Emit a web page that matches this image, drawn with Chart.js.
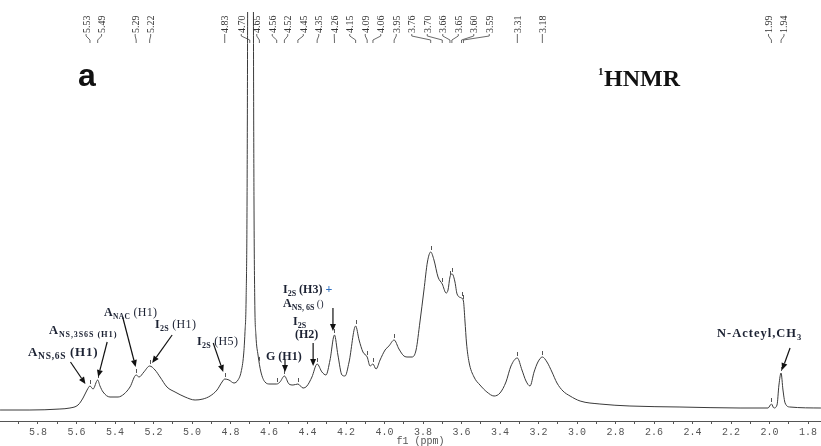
<!DOCTYPE html>
<html>
<head>
<meta charset="utf-8">
<script src="https://cdn.jsdelivr.net/npm/chart.js@4/dist/chart.umd.min.js"></script>
<style>
  html, body { margin: 0; padding: 0; background: #fff; }
  #wrap { width: 821px; height: 446px; position: relative; }
</style>
</head>
<body>
<div id="wrap"><canvas id="nmr" width="821" height="446"></canvas></div>
<script>
// 1H NMR spectrum: chemical shift (ppm) and signal intensity (arbitrary units)
const shifts = [
  5.997, 5.842, 5.686, 5.634, 5.592, 5.566, 5.545, 5.530, 5.514, 5.490,
  5.478, 5.462, 5.426, 5.384, 5.353, 5.322, 5.290, 5.275, 5.250, 5.220,
  5.192, 5.166, 5.130, 5.088, 5.036, 4.984, 4.943, 4.906, 4.870, 4.844,
  4.830, 4.808, 4.782, 4.761, 4.745, 4.732, 4.725, 4.719, 4.714, 4.711,
  4.696, 4.681, 4.678, 4.674, 4.668, 4.657, 4.642, 4.621, 4.595, 4.560,
  4.543, 4.520, 4.496, 4.475, 4.450, 4.423, 4.403, 4.377, 4.350, 4.325,
  4.304, 4.283, 4.260, 4.242, 4.221, 4.205, 4.184, 4.150, 4.132, 4.112,
  4.090, 4.075, 4.060, 4.044, 4.023, 3.997, 3.977, 3.950, 3.925, 3.899,
  3.878, 3.857, 3.836, 3.816, 3.795, 3.777, 3.760, 3.743, 3.722, 3.700,
  3.680, 3.670, 3.660, 3.650, 3.644, 3.634, 3.623, 3.600, 3.590, 3.582,
  3.574, 3.561, 3.535, 3.504, 3.468, 3.431, 3.400, 3.369, 3.343, 3.310,
  3.286, 3.265, 3.244, 3.223, 3.203, 3.180, 3.156, 3.130, 3.104, 3.073,
  3.036, 2.984, 2.881, 2.725, 2.465, 2.153, 2.008, 1.990, 1.977, 1.961,
  1.951, 1.940, 1.930, 1.919, 1.894, 1.733
];
const intensity = [
  11, 11, 12, 13, 16, 23, 31, 35, 32, 41,
  35, 29, 24, 24, 27, 34, 46, 44, 49, 55,
  51, 44, 34, 29, 24, 21, 22, 25, 31, 39,
  42, 41, 38, 41, 49, 66, 88, 121, 221, 421,
  2400, 421, 221, 121, 86, 66, 49, 39, 37, 37,
  39, 45, 37, 36, 37, 33, 35, 44, 57, 49,
  46, 61, 86, 66, 46, 45, 59, 95, 81, 69,
  64, 55, 57, 52, 61, 71, 75, 81, 72, 65,
  64, 64, 71, 99, 131, 159, 169, 161, 144, 137,
  128, 131, 144, 147, 146, 139, 127, 123, 120, 100,
  78, 59, 44, 36, 29, 25, 28, 39, 55, 63,
  51, 40, 35, 49, 59, 64, 59, 49, 38, 30,
  25, 20, 17, 15, 14, 13, 13, 17, 13, 16,
  36, 48, 31, 18, 14, 13
];

// picked peaks (ppm)
const peakShifts = [
  5.53, 5.49, 5.29, 5.22, 4.83, 4.70, 4.65, 4.56, 4.52, 4.45,
  4.35, 4.26, 4.15, 4.09, 4.06, 3.95, 3.76, 3.70, 3.66, 3.65,
  3.60, 3.59, 3.31, 3.18, 1.99, 1.94
];

// axis tick labels
const tickLabels = ['5.8','5.6','5.4','5.2','5.0','4.8','4.6','4.4','4.2','4.0',
                    '3.8','3.6','3.4','3.2','3.0','2.8','2.6','2.4','2.2','2.0','1.8'];
const majorTicks = tickLabels.map(Number);
const minorTicks = majorTicks.map(v => Math.round((v + 0.1) * 10) / 10);

const INK = '#1c2233';
const SERIF = '"Liberation Serif", "DejaVu Serif", serif';

// signal assignments: rich text runs [text, size, bold, shift, colour]
const assignments = [
  { ppm: 5.53, tipDx: -4.5, gap: 2, tail: [-15, -22], at: [28, 356], spacing: '0.7px',
    lines: [[['A', 13, 1], ['NS,6S', 9.5, 1, 'sub'], [' (H1)', 13, 1]]] },
  { ppm: 5.49, tipDx: 0.5, gap: 3, tail: [9, -35], at: [49, 334], spacing: '0.9px',
    lines: [[['A', 12.5, 1], ['NS,3S6S', 8, 1, 'sub'], [' (H1)', 8.5, 1, 'sub']]] },
  { ppm: 5.29, tipDx: -0.5, gap: 8, tail: [-13, -50], at: [104, 316], spacing: '0.3px',
    lines: [[['A', 12, 1], ['NAC', 7.5, 1, 'sub'], [' (H1)', 12, 0]]] },
  { ppm: 5.22, tipDx: 2.5, gap: 3, tail: [20, -28], at: [155, 328], spacing: '0.3px',
    lines: [[['I', 12, 1], ['2S', 8, 1, 'sub'], [' (H1)', 12, 0]]] },
  { ppm: 4.83, tipDx: -1.5, gap: 7, tail: [-10, -29], at: [197, 345], spacing: '0.3px',
    lines: [[['I', 12, 1], ['2S', 8, 1, 'sub'], [' (H5)', 12, 0]]] },
  { ppm: 4.52, tipDx: 0.6, gap: 4, tail: [0, -12], at: [266, 360],
    lines: [[['G (H1)', 12, 1]]] },
  { ppm: 4.35, tipDx: -4, gap: -2, tail: [0, -23], at: [293, 325], lineStep: 13, indent: 2,
    lines: [[['I', 12, 1], ['2S', 8, 1, 'sub']], [['(H2)', 12, 1]]] },
  { ppm: 4.26, tipDx: -1.5, gap: 4, tail: [0, -23], at: [283, 293], lineStep: 14,
    lines: [[['I', 12, 1], ['2S', 8, 1, 'sub'], [' (H3) ', 12, 1], ['+', 12, 1, null, '#2f6fc0']],
            [['A', 12, 1], ['NS, 6S', 8, 1, 'sub'], [' ()', 10, 0]]] },
  { ppm: 1.94, tipDx: 1, gap: 3, tail: [8, -22], at: [717, 337], spacing: '1px',
    lines: [[['N-Acteyl,CH', 12.5, 1], ['3', 8.5, 1, 'sub']]] }
];

function curveAt(ppm) {
  for (let i = 0; i < shifts.length - 1; i++) {
    const a = shifts[i], b = shifts[i + 1];
    if (ppm <= a && ppm >= b) {
      const t = (a - ppm) / (a - b);
      return intensity[i] + t * (intensity[i + 1] - intensity[i]);
    }
  }
  return 0;
}

function drawRich(ctx, x, y, runs, spacing) {
  let cx = x;
  ctx.textAlign = 'left';
  ctx.textBaseline = 'alphabetic';
  ctx.letterSpacing = spacing || '0px';
  for (const [t, size, bold, shift, color] of runs) {
    ctx.font = (bold ? 'bold ' : '') + size + 'px ' + SERIF;
    ctx.fillStyle = color || INK;
    const dy = shift === 'sub' ? 2.5 : 0;
    ctx.fillText(t, cx, y + dy);
    cx += ctx.measureText(t).width;
  }
  ctx.letterSpacing = '0px';
}

function drawArrow(ctx, x1, y1, x2, y2) {
  const ang = Math.atan2(y2 - y1, x2 - x1);
  const head = 7, half = 3;
  ctx.strokeStyle = '#111';
  ctx.fillStyle = '#111';
  ctx.lineWidth = 1.2;
  ctx.beginPath();
  ctx.moveTo(x1, y1);
  ctx.lineTo(x2 - Math.cos(ang) * head, y2 - Math.sin(ang) * head);
  ctx.stroke();
  ctx.beginPath();
  ctx.moveTo(x2, y2);
  ctx.lineTo(x2 - head * Math.cos(ang) + half * Math.sin(ang), y2 - head * Math.sin(ang) - half * Math.cos(ang));
  ctx.lineTo(x2 - head * Math.cos(ang) - half * Math.sin(ang), y2 - head * Math.sin(ang) + half * Math.cos(ang));
  ctx.closePath();
  ctx.fill();
}

// spread peak labels so they do not overlap
function spreadLabels(xs, gapPx) {
  let clusters = xs.map(x => ({ items: [x] }));
  const place = c => {
    const mean = c.items.reduce((s, v) => s + v, 0) / c.items.length;
    c.start = mean - (c.items.length - 1) * gapPx / 2;
    c.end = c.start + (c.items.length - 1) * gapPx;
  };
  clusters.forEach(place);
  let merged = true;
  while (merged) {
    merged = false;
    for (let i = 0; i < clusters.length - 1; i++) {
      if (clusters[i].end + gapPx > clusters[i + 1].start) {
        clusters[i].items = clusters[i].items.concat(clusters[i + 1].items);
        clusters.splice(i + 1, 1);
        place(clusters[i]);
        merged = true;
        break;
      }
    }
  }
  const out = [];
  clusters.forEach(c => c.items.forEach((_, k) => out.push(c.start + k * gapPx)));
  return out;
}

const decorations = {
  id: 'decorations',
  afterDatasetsDraw(chart) {
    const ctx = chart.ctx;
    const xs = chart.scales.x, ys = chart.scales.y;
    const area = chart.chartArea;

    // peak markers on the trace
    ctx.save();
    ctx.strokeStyle = '#555';
    ctx.lineWidth = 1;
    peakShifts.forEach(p => {
      const x = Math.round(xs.getPixelForValue(p)) + 0.5;
      const y = ys.getPixelForValue(curveAt(p));
      if (y > area.top + 20) {
        ctx.beginPath();
        ctx.moveTo(x, y - 2);
        ctx.lineTo(x, y - 6);
        ctx.stroke();
      }
    });

    // peak list along the top
    const px = peakShifts.map(p => xs.getPixelForValue(p));
    const lx = spreadLabels(px, 15.5);
    ctx.fillStyle = '#333';
    ctx.strokeStyle = '#444';
    ctx.lineWidth = 0.8;
    ctx.font = '10px ' + SERIF;
    peakShifts.forEach((p, i) => {
      ctx.save();
      ctx.translate(lx[i] + 3.5, 33);
      ctx.rotate(-Math.PI / 2);
      ctx.textAlign = 'left';
      ctx.textBaseline = 'alphabetic';
      ctx.fillText(p.toFixed(2), 0, 0);
      ctx.restore();
      ctx.beginPath();
      ctx.moveTo(lx[i], 34);
      ctx.lineTo(lx[i], 36);
      ctx.lineTo(px[i], 40);
      ctx.lineTo(px[i], 43);
      ctx.stroke();
    });

    // assignments with arrows
    assignments.forEach(a => {
      const tx = xs.getPixelForValue(a.ppm) + a.tipDx;
      const ty = ys.getPixelForValue(curveAt(a.ppm)) - a.gap;
      drawArrow(ctx, tx + a.tail[0], ty + a.tail[1], tx, ty);
      a.lines.forEach((runs, k) => {
        drawRich(ctx, a.at[0] + (k ? (a.indent || 0) : 0), a.at[1] + k * (a.lineStep || 0), runs, a.spacing);
      });
    });

    // panel letter and title
    ctx.fillStyle = '#111';
    ctx.textAlign = 'left';
    ctx.textBaseline = 'alphabetic';
    ctx.font = 'bold 32px "Liberation Sans", Arial, sans-serif';
    ctx.fillText('a', 78, 86);
    ctx.font = 'bold 11px ' + SERIF;
    ctx.fillText('1', 598, 75);
    ctx.font = 'bold 24px ' + SERIF;
    ctx.fillText('HNMR', 604, 86);

    // axis title
    ctx.fillStyle = '#555';
    ctx.font = '10px "Liberation Mono", monospace';
    ctx.textAlign = 'center';
    ctx.textBaseline = 'middle';
    ctx.fillText('f1 (ppm)', (area.left + area.right) / 2 + 10, 441);
    ctx.restore();
  }
};

new Chart(document.getElementById('nmr'), {
  type: 'line',
  data: {
    datasets: [{
      data: shifts.map((s, i) => ({ x: s, y: intensity[i] })),
      borderColor: '#3a3a3a',
      borderWidth: 1,
      pointRadius: 0,
      cubicInterpolationMode: 'monotone',
      fill: false
    }]
  },
  options: {
    responsive: false,
    animation: false,
    devicePixelRatio: 1,
    layout: { padding: { top: 12, left: 0, right: 0, bottom: 0 } },
    plugins: { legend: { display: false }, tooltip: { enabled: false } },
    scales: {
      x: {
        type: 'linear',
        reverse: true,
        min: 1.7325,
        max: 5.9974,
        position: 'bottom',
        afterBuildTicks(scale) {
          scale.ticks = majorTicks.concat(minorTicks).sort((a, b) => a - b).map(v => ({ value: v }));
        },
        afterFit(scale) { scale.height = 25; },
        grid: { display: true, drawOnChartArea: false, drawTicks: true, tickLength: 3, color: '#555' },
        border: { display: true, color: '#555', width: 1 },
        ticks: {
          autoSkip: false,
          maxRotation: 0,
          padding: 2,
          color: '#555',
          font: { family: '"Liberation Mono", monospace', size: 10 },
          callback(v) {
            const i = majorTicks.findIndex(m => Math.abs(m - v) < 1e-6);
            return i >= 0 ? tickLabels[i] : '';
          }
        }
      },
      y: { display: false, min: 0, max: 409 }
    }
  },
  plugins: [decorations]
});
</script>
</body>
</html>
